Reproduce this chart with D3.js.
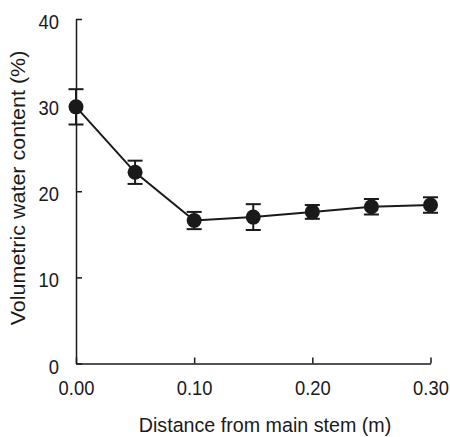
<!DOCTYPE html>
<html><head><meta charset="utf-8">
<script src="https://cdn.jsdelivr.net/npm/d3@7"></script>
<style>body{margin:0;background:#fff}svg{display:block}text{font-family:"Liberation Sans",Arial,Helvetica,sans-serif;fill:#1a1a1a}</style>
</head><body>
<script>
const distances = [0.00, 0.05, 0.10, 0.15, 0.20, 0.25, 0.30];
const waterContent = [29.8, 22.2, 16.6, 17.0, 17.6, 18.2, 18.4];
const errors = [2.05, 1.35, 1.0, 1.5, 0.8, 0.9, 0.9];
const xTicks = [0.00, 0.10, 0.20, 0.30];
const yTicks = [0, 10, 20, 30, 40];

const W = 450, H = 437, SX = 0.92;
const svg = d3.select("body").append("svg").attr("width", W).attr("height", H);
const x = d3.scaleLinear().domain([0, 0.30]).range([76, 430.5]);
const y = d3.scaleLinear().domain([0, 40]).range([363.5, 19]);
const ink = "#1a1a1a";

const xAxis = svg.append("g").attr("transform", `translate(0,${y(0)})`)
  .call(d3.axisBottom(x).tickValues(xTicks).tickFormat(d3.format(".2f")).tickSizeInner(-6).tickSizeOuter(0));
const yAxis = svg.append("g").attr("transform", `translate(${x(0)},0)`)
  .call(d3.axisLeft(y).tickValues(yTicks).tickSizeInner(-6).tickSizeOuter(0));
[xAxis, yAxis].forEach(g => {
  g.select(".domain").attr("stroke", ink).attr("stroke-width", 1.5);
  g.selectAll(".tick line").attr("stroke", ink).attr("stroke-width", 1.5);
  g.selectAll(".tick text").attr("font-size", 20).attr("fill", ink)
   .style("font-family", '"Liberation Sans",Arial,sans-serif')
   .attr("transform", `scale(${SX},1)`);
});
xAxis.selectAll(".tick text").attr("y", 32).attr("dy", 0);
yAxis.selectAll(".tick text").attr("x", -17 / SX).attr("y", 9.5).attr("dy", 0);

const pts = distances.map((d, i) => ({x: d, y: waterContent[i], e: errors[i]}));

svg.append("path").datum(pts)
  .attr("fill", "none").attr("stroke", ink).attr("stroke-width", 2)
  .attr("d", d3.line().x(d => x(d.x)).y(d => y(d.y)));

const eb = svg.append("g").attr("stroke", ink).attr("stroke-width", 2);
pts.forEach(d => {
  eb.append("line").attr("x1", x(d.x)).attr("x2", x(d.x)).attr("y1", y(d.y - d.e)).attr("y2", y(d.y + d.e));
  [d.y - d.e, d.y + d.e].forEach(v => {
    eb.append("line").attr("x1", x(d.x) - 7.5).attr("x2", x(d.x) + 7.5).attr("y1", y(v)).attr("y2", y(v));
  });
});

svg.append("g").selectAll("circle").data(pts).join("circle")
  .attr("cx", d => x(d.x)).attr("cy", d => y(d.y)).attr("r", 7.5).attr("fill", ink);

svg.append("text").attr("transform", `translate(265,432) scale(0.96,1)`).attr("text-anchor", "middle")
  .attr("font-size", 20.5).text("Distance from main stem (m)");
svg.append("text").attr("transform", `translate(25,188) scale(${SX},1) rotate(-90)`).attr("text-anchor", "middle")
  .attr("font-size", 21.5).text("Volumetric water content (%)");
</script>
</body></html>
